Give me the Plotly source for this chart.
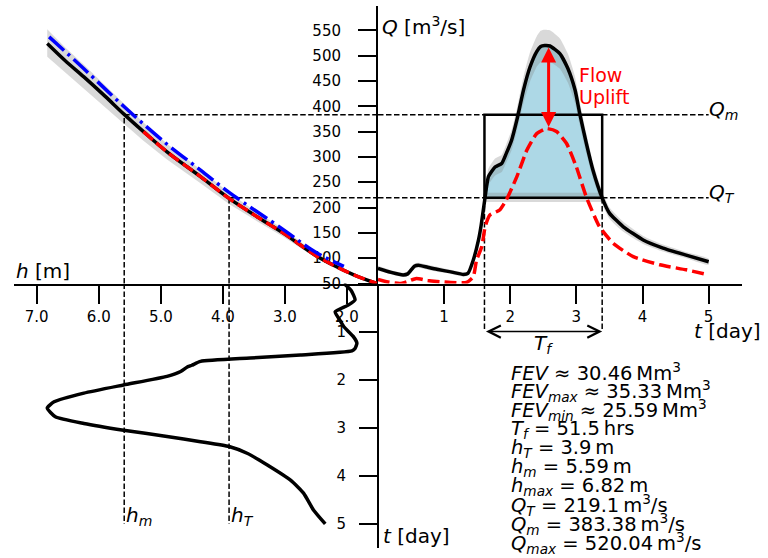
import numpy as np
import plotly.graph_objects as go

# ---------------- data ----------------
# observed hydrograph (black) with its uncertainty band
t_obs = [0.00, 0.20, 0.38, 0.45, 0.55, 0.61, 0.75, 0.89, 1.10, 1.29,
         1.36, 1.44, 1.52, 1.56, 1.62, 1.67, 1.77, 1.87, 1.94, 2.02,
         2.10, 2.20, 2.30, 2.40, 2.46, 2.52, 2.60, 2.75, 2.87, 2.98,
         3.05, 3.15, 3.25, 3.39, 3.50, 3.71, 4.01, 4.31, 4.66, 5.00]
Q_obs = [80, 72, 67, 69, 84, 86, 82, 78, 73, 68,
         70, 96, 136, 165, 221, 261, 280, 287, 307, 333,
         373, 432, 478, 508, 518, 520, 519, 504, 475, 432,
         386, 327, 274, 219, 189, 162, 136, 120, 106, 93]
Q_obs_upper = [85, 76, 71, 73, 89, 91, 87, 83, 77, 72,
               74, 102, 144, 175, 234, 277, 297, 304, 325, 353,
               395, 458, 507, 538, 549, 551, 550, 534, 504, 458,
               409, 347, 290, 232, 200, 172, 144, 127, 112, 99]
Q_obs_lower = [75, 68, 63, 65, 79, 81, 77, 73, 69, 64,
               66, 90, 128, 155, 208, 245, 263, 270, 289, 313,
               351, 406, 449, 478, 487, 489, 488, 474, 447, 406,
               363, 307, 258, 206, 178, 152, 128, 113, 100, 87]

# baseline hydrograph (red dashed)
t_base = [0.00, 0.15, 0.33, 0.45, 0.58, 0.75, 0.89, 1.10, 1.34, 1.44,
          1.49, 1.57, 1.62, 1.69, 1.84, 1.94, 2.10, 2.25, 2.40, 2.55,
          2.70, 2.85, 3.00, 3.15, 3.35, 3.56, 3.86, 4.26, 4.66, 5.00]
Q_base = [58, 53, 50, 54, 60, 56, 54, 52, 52, 63,
          96, 123, 162, 185, 195, 215, 261, 313, 346, 356,
          350, 327, 280, 221, 162, 129, 103, 87, 77, 67]

# rating curves (stage h -> discharge Q)
h_rating = [6.83, 6.54, 6.24, 5.90, 5.59, 5.28, 4.90, 4.36, 3.90, 3.45,
            3.02, 2.51, 2.20, 1.89, 1.52]
Q_rating = [524, 490, 458, 420, 384, 350, 310, 261, 218, 182,
            149, 106, 85, 67, 50]
Q_rating_upper = [552, 516, 482, 442, 404, 368, 326, 275, 229, 191,
                  157, 111, 89, 70, 52]
Q_rating_lower = [498, 466, 435, 399, 365, 332, 295, 248, 207, 173,
                  142, 101, 81, 64, 48]
h_rating_red = [5.28, 4.90, 4.36, 3.90, 3.45, 3.02, 2.51, 2.20, 1.89, 1.52]
Q_rating_red = [350, 310, 261, 218, 182, 149, 106, 85, 67, 50]
h_rating_blue = [6.80, 6.24, 5.59, 4.90, 4.36, 3.90, 3.02, 2.51, 2.05]
Q_rating_blue = [537, 474, 399, 325, 274, 230, 156, 112, 84]

# stage hydrograph (lower-left panel)
t_stage = [0.00, 0.15, 0.34, 0.45, 0.59, 0.75, 0.90, 1.10, 1.24, 1.35,
           1.40, 1.485, 1.55, 1.62, 1.70, 1.74, 1.83, 1.93, 2.11, 2.28,
           2.46, 2.59, 2.77, 2.91, 3.05, 3.18, 3.29, 3.39, 3.53, 3.77,
           4.09, 4.36, 4.71, 5.00]
h_stage = [2.05, 1.93, 1.87, 1.98, 2.19, 2.12, 2.05, 1.90, 1.84, 1.87,
           1.92, 2.75, 3.56, 4.36, 4.50, 4.58, 4.68, 4.90, 5.60, 6.24,
           6.72, 6.83, 6.70, 6.24, 5.60, 4.90, 4.36, 3.90, 3.61, 3.29,
           2.91, 2.70, 2.54, 2.35]

# summary values
FEV, FEV_max, FEV_min = 30.46, 35.33, 25.59
T_f_hrs = 51.5
h_T, h_m, h_max = 3.9, 5.59, 6.82
Q_T, Q_m, Q_max = 219.1, 383.38, 520.04
t_start, t_end = 1.61, 3.39
Q_T_range = [211, 229]
t_label_end = 5.0

Q_ticks = [50, 100, 150, 200, 250, 300, 350, 400, 450, 500, 550]
h_ticks = [7, 6, 5, 4, 3, 2]
h_ticklabels = ["7.0", "6.0", "5.0", "4.0", "3.0", "2.0"]
t_ticks = [1, 2, 3, 4, 5]

# axis ranges
t_range = [0, 5.5]
Q_range = [50, 598]
h_range = [7.366, 1.5]
tl_range = [5.5, 0]

# ---------------- layout helpers ----------------
W, H = 768, 558
def fx(p):
    return p / W
def fy(p):
    return 1 - p / H

X0, XR, XL = 378, 741.7, 14
Y0, YT, YB = 283.5, 6, 548

FONT = "DejaVu Sans"
BLACK = "black"
RED = "#ff0000"
BLUE = "#0000ff"
GREY = "rgba(128,128,128,0.3)"
DASH = "5.5px,2.5px"
LW = 3.5

fig = go.Figure()

# ---------------- upper-right: hydrographs ----------------
t_in = [t for t in t_obs if t_start < t < t_end]
fill_t = [t_start] + t_in + [t_end]
fill_q = [max(float(np.interp(t, t_obs, Q_obs)), Q_T) for t in fill_t]
fig.add_trace(go.Scatter(x=fill_t + [t_end, t_start], y=fill_q + [Q_T, Q_T],
                         fill="toself", fillcolor="#add8e6", line=dict(width=0),
                         mode="lines", xaxis="x", yaxis="y", hoverinfo="skip"))
fig.add_trace(go.Scatter(x=[t_start, t_end, t_end, t_start, t_start],
                         y=[Q_T_range[0], Q_T_range[0], Q_T_range[1], Q_T_range[1], Q_T_range[0]],
                         fill="toself", fillcolor=GREY, line=dict(width=0),
                         mode="lines", xaxis="x", yaxis="y", hoverinfo="skip"))
fig.add_trace(go.Scatter(x=t_obs + t_obs[::-1], y=Q_obs_upper + Q_obs_lower[::-1],
                         fill="toself", fillcolor=GREY, line=dict(width=0, shape="spline", smoothing=0.5),
                         mode="lines", xaxis="x", yaxis="y", hoverinfo="skip"))
# threshold rectangle
fig.add_trace(go.Scatter(x=[t_start, t_end, t_end, t_start, t_start],
                         y=[Q_T, Q_T, Q_m, Q_m, Q_T], mode="lines",
                         line=dict(color=BLACK, width=2.5), xaxis="x", yaxis="y"))
# horizontal guides
for qv in (Q_m, Q_T):
    fig.add_trace(go.Scatter(x=[0, t_label_end], y=[qv, qv], mode="lines",
                             line=dict(color=BLACK, width=1.5, dash=DASH), xaxis="x", yaxis="y"))
# vertical guides (T_f)
for tv in (t_start, t_end):
    fig.add_trace(go.Scatter(x=[tv, tv], y=[Q_range[0], Q_T], mode="lines",
                             line=dict(color=BLACK, width=1.5, dash=DASH), xaxis="x", yaxis="y"))
    fig.add_trace(go.Scatter(x=[tv, tv], y=[0, 1.0], mode="lines",
                             line=dict(color=BLACK, width=1.5, dash=DASH), xaxis="x3", yaxis="y3"))
fig.add_trace(go.Scatter(x=t_obs, y=Q_obs, mode="lines",
                         line=dict(color=BLACK, width=LW, shape="spline", smoothing=0.5),
                         xaxis="x", yaxis="y"))
fig.add_trace(go.Scatter(x=t_base, y=Q_base, mode="lines",
                         line=dict(color=RED, width=LW, dash="12px,5px", shape="spline", smoothing=0.5),
                         xaxis="x", yaxis="y"))

# ---------------- upper-left: rating curves ----------------
fig.add_trace(go.Scatter(x=h_rating + h_rating[::-1], y=Q_rating_upper + Q_rating_lower[::-1],
                         fill="toself", fillcolor=GREY, line=dict(width=0),
                         mode="lines", xaxis="x2", yaxis="y", hoverinfo="skip"))
fig.add_trace(go.Scatter(x=[h_m, h_range[1]], y=[Q_m, Q_m], mode="lines",
                         line=dict(color=BLACK, width=1.5, dash=DASH), xaxis="x2", yaxis="y"))
fig.add_trace(go.Scatter(x=[h_T, h_range[1]], y=[Q_T, Q_T], mode="lines",
                         line=dict(color=BLACK, width=1.5, dash=DASH), xaxis="x2", yaxis="y"))
for hv, qv in ((h_m, Q_m), (h_T, Q_T)):
    fig.add_trace(go.Scatter(x=[hv, hv], y=[Q_range[0], qv], mode="lines",
                             line=dict(color=BLACK, width=1.5, dash=DASH), xaxis="x2", yaxis="y"))
    fig.add_trace(go.Scatter(x=[hv, hv], y=[0, t_label_end], mode="lines",
                             line=dict(color=BLACK, width=1.5, dash=DASH), xaxis="x2", yaxis="y2"))
fig.add_trace(go.Scatter(x=h_rating, y=Q_rating, mode="lines",
                         line=dict(color=BLACK, width=LW, shape="spline"), xaxis="x2", yaxis="y"))
fig.add_trace(go.Scatter(x=h_rating_red, y=Q_rating_red, mode="lines",
                         line=dict(color=RED, width=LW, dash="12px,5px", shape="spline"),
                         xaxis="x2", yaxis="y"))
fig.add_trace(go.Scatter(x=h_rating_blue, y=Q_rating_blue, mode="lines",
                         line=dict(color=BLUE, width=LW, dash="20px,5px,3px,5px", shape="spline"),
                         xaxis="x2", yaxis="y"))

# ---------------- lower-left: stage hydrograph ----------------
fig.add_trace(go.Scatter(x=h_stage, y=t_stage, mode="lines",
                         line=dict(color=BLACK, width=LW, shape="spline", smoothing=0.5),
                         xaxis="x2", yaxis="y2"))

# ---------------- axes ----------------
axis_common = dict(showline=True, linecolor=BLACK, linewidth=2, ticks="outside",
                   ticklen=18, tickwidth=2, tickcolor=BLACK, showgrid=False,
                   zeroline=False, automargin=False,
                   tickfont=dict(size=15, color=BLACK, family=FONT))
fig.update_layout(
    width=W, height=H, margin=dict(l=0, r=0, t=0, b=0, pad=0, autoexpand=False),
    paper_bgcolor="white", plot_bgcolor="white", showlegend=False,
    font=dict(family=FONT, color=BLACK),
    xaxis=dict(domain=[fx(X0), fx(XR)], range=t_range, anchor="y", side="bottom",
               tickvals=t_ticks, **axis_common),
    yaxis=dict(domain=[fy(Y0), fy(YT)], range=Q_range, anchor="x", side="left",
               tickvals=Q_ticks, ticklabelstandoff=14, **axis_common),
    xaxis2=dict(domain=[fx(XL), fx(X0)], range=h_range, anchor="y", side="bottom",
                tickvals=h_ticks, ticktext=h_ticklabels, **axis_common),
    yaxis2=dict(domain=[fy(YB), fy(Y0)], range=tl_range, anchor="free", position=fx(X0),
                side="left", tickvals=t_ticks, ticklabelstandoff=10, **axis_common),
    xaxis3=dict(domain=[fx(X0), fx(XR)], range=t_range, anchor="y3", visible=False,
                automargin=False),
    yaxis3=dict(domain=[fy(YB), fy(Y0)], range=tl_range, anchor="x3", visible=False,
                automargin=False),
)

# ---------------- annotations ----------------
ann = []
def txt(x, y, s, size=20, xanchor="left", yanchor="middle", color=BLACK, xref="paper",
        yref="paper", xshift=0, yshift=0):
    ann.append(dict(x=x, y=y, text=s, showarrow=False, xref=xref, yref=yref,
                    xanchor=xanchor, yanchor=yanchor, xshift=xshift, yshift=yshift,
                    font=dict(size=size, color=color, family=FONT)))

txt(fx(14), fy(271), "<i>h</i> [m]")
txt(fx(380), fy(26), "<i>Q</i> [m<sup>3</sup>/s]")
txt(fx(692), fy(331), "<i>t</i> [day]")
txt(fx(381), fy(536), "<i>t</i> [day]")
txt(t_label_end, Q_m, "<i>Q<sub>m</sub></i>", xref="x", yref="y", yshift=5, xshift=-2)
txt(t_label_end, Q_T, "<i>Q<sub>T</sub></i>", xref="x", yref="y", yshift=5, xshift=-2)
txt(h_m, t_label_end, "<i>h<sub>m</sub></i>", xref="x2", yref="y2", yshift=8)
txt(h_T, t_label_end, "<i>h<sub>T</sub></i>", xref="x2", yref="y2", yshift=8)
txt((t_start + t_end) / 2, 1.0, "<i>T<sub>f</sub></i>", xanchor="center", yanchor="top",
    xref="x3", yref="y3", yshift=3)
txt(fx(577), fy(75), "Flow", size=19, color=RED)
txt(fx(577), fy(97), "Uplift", size=19, color=RED)

stats = [
    f"<i>FEV</i> ≈ {FEV:.2f}\u2009Mm<sup>3</sup>",
    f"<i>FEV<sub>max</sub></i> ≈ {FEV_max:.2f}\u2009Mm<sup>3</sup>",
    f"<i>FEV<sub>min</sub></i> ≈ {FEV_min:.2f}\u2009Mm<sup>3</sup>",
    f"<i>T<sub>f</sub></i> = {T_f_hrs}\u2009hrs",
    f"<i>h<sub>T</sub></i> = {h_T}\u2009m",
    f"<i>h<sub>m</sub></i> = {h_m}\u2009m",
    f"<i>h<sub>max</sub></i> = {h_max}\u2009m",
    f"<i>Q<sub>T</sub></i> = {Q_T}\u2009m<sup>3</sup>/s",
    f"<i>Q<sub>m</sub></i> = {Q_m}\u2009m<sup>3</sup>/s",
    f"<i>Q<sub>max</sub></i> = {Q_max}\u2009m<sup>3</sup>/s",
]
for i, s in enumerate(stats):
    txt(fx(509), fy(372 + 19 * i), s, size=19.5)

# arrows
t_peak_base = t_base[int(np.argmax(Q_base))]
ann.append(dict(x=t_peak_base + 0.03, y=max(Q_obs) - 4, ax=t_peak_base + 0.03, ay=max(Q_base),
                xref="x", yref="y", axref="x", ayref="y", text="", showarrow=True,
                arrowside="end+start", arrowhead=2, startarrowhead=2, arrowsize=1,
                startarrowsize=1, arrowwidth=3, arrowcolor=RED))
ann.append(dict(x=t_end, y=1.0, ax=t_start, ay=1.0, xref="x3", yref="y3", axref="x3",
                ayref="y3", text="", showarrow=True, arrowside="end+start",
                arrowhead=5, startarrowhead=5, arrowsize=1.6, startarrowsize=1.6,
                arrowwidth=1.5, arrowcolor=BLACK))
fig.update_layout(annotations=ann)

fig.write_html("out.html", config={"displayModeBar": False},
               post_script="document.body.style.margin='0';document.body.style.padding='0';")
